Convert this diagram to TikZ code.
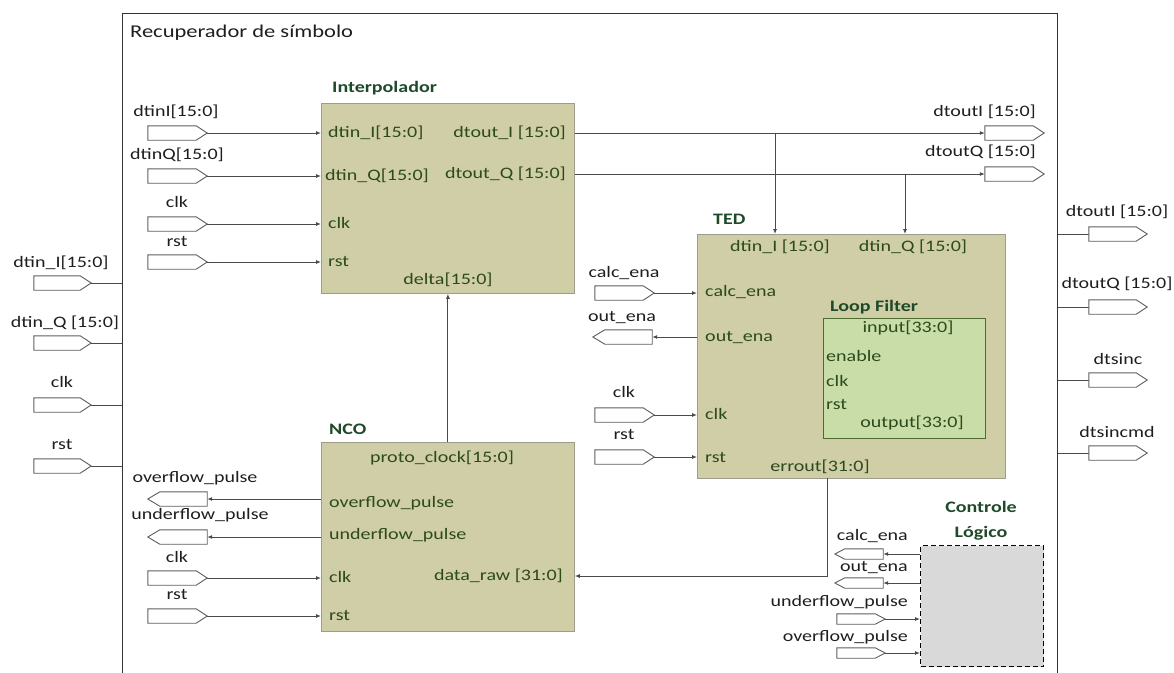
\documentclass[tikz,border=0pt]{standalone}
\usepackage{fontspec}
\setmainfont{Carlito}[FakeStretch=1.25]
\usetikzlibrary{arrows.meta}
\definecolor{blockfill}{HTML}{D0CEA6}
\definecolor{blockdraw}{HTML}{9E9D8C}
\definecolor{lffill}{HTML}{C8DDA8}
\definecolor{lfdraw}{HTML}{4E6B2E}
\definecolor{intext}{HTML}{2C4A1C}
\definecolor{titletext}{HTML}{1F4A2A}
\definecolor{wirecol}{HTML}{4A4A4A}
\definecolor{portdraw}{HTML}{5E5E5E}
\definecolor{ctrlfill}{HTML}{D9D9D9}
\definecolor{lbltext}{HTML}{1E1E1E}
\begin{document}
\begin{tikzpicture}[x=1pt,y=-1pt,
  font=\fontsize{16}{18}\selectfont,
  block/.style={draw=blockdraw, fill=blockfill, line width=0.8pt, inner sep=0, anchor=north west},
  lfblock/.style={draw=lfdraw, fill=lffill, line width=1.2pt, inner sep=0, anchor=north west},
  ctrlblock/.style={draw=black, fill=ctrlfill, line width=1.1pt, dash pattern=on 5pt off 3pt, inner sep=0, anchor=north west},
  outerbox/.style={draw=black!80, line width=1.1pt, inner sep=0, anchor=north west},
  portnode/.style={inner sep=0, minimum width=59pt, minimum height=14pt},
  smallport/.style={inner sep=0, minimum width=48pt, minimum height=10pt},
  portline/.style={draw=portdraw, fill=white, line width=0.9pt, line join=miter},
  wire/.style={draw=wirecol, line width=0.9pt},
  arr/.style={-{Latex[length=5pt,width=4pt]}},
  lbl/.style={inner sep=0, text=lbltext, text height=11.5pt, text depth=3.5pt},
  inl/.style={inner sep=0, text=intext, text height=11.5pt, text depth=3.5pt},
  ttl/.style={inner sep=0, text=titletext, font=\fontsize{16}{18}\selectfont\bfseries, text height=11.5pt, text depth=3.5pt}
]
\useasboundingbox (0,0) rectangle (1174,672);

% ---------- blocks ----------
\node[outerbox, minimum width=935pt, minimum height=700pt] (outer) at (122,13) {};
\node[block, minimum width=253pt, minimum height=190pt] (interp) at (321,103) {};
\node[block, minimum width=308pt, minimum height=244pt] (ted) at (697,234) {};
\node[block, minimum width=253pt, minimum height=189pt] (nco) at (321,442) {};
\node[lfblock, minimum width=162pt, minimum height=120pt] (lf) at (823,318) {};
\node[ctrlblock, minimum width=123pt, minimum height=121pt] (ctrl) at (920,545) {};

% ---------- titles ----------
\node[lbl, anchor=west, font=\fontsize{18}{20}\selectfont] (title) at (130,33) {Recuperador de símbolo};
\node[ttl, anchor=west] (tInterp) at (332,88) {Interpolador};
\node[ttl, anchor=west] (tTed) at (713,220) {TED};
\node[ttl, anchor=west] (tNco) at (329,430) {NCO};
\node[ttl, anchor=west] (tLf) at (830,307) {Loop Filter};
\node[ttl] (tCtrlA) at (981,508) {Controle};
\node[ttl] (tCtrlB) at (981,533) {Lógico};

% ---------- ports ----------
% outer left
\node[portnode, minimum width=57pt] (oL1) at (62.5,283) {};
\node[portnode, minimum width=57pt] (oL2) at (62.5,343) {};
\node[portnode, minimum width=57pt] (oL3) at (62.5,405) {};
\node[portnode, minimum width=57pt] (oL4) at (62.5,466) {};
% outer right
\node[portnode, minimum width=58pt] (oR1) at (1118,234) {};
\node[portnode, minimum width=58pt] (oR2) at (1118,307) {};
\node[portnode, minimum width=58pt] (oR3) at (1118,380) {};
\node[portnode, minimum width=58pt] (oR4) at (1118,453) {};
% interpolador inputs
\node[portnode] (pI) at (177.5,133) {};
\node[portnode] (pQ) at (177.5,176) {};
\node[portnode] (pC) at (177.5,224) {};
\node[portnode] (pR) at (177.5,262) {};
% interpolador outputs
\node[portnode] (qI) at (1014.5,133) {};
\node[portnode] (qQ) at (1014.5,174) {};
% TED ports
\node[portnode] (tC) at (624.5,293) {};
\node[portnode] (tO) at (622.5,337) {};
\node[portnode] (tK) at (624.5,415) {};
\node[portnode] (tR) at (624.5,457) {};
% NCO ports
\node[portnode] (nO) at (177.5,499) {};
\node[portnode] (nU) at (177.5,537) {};
\node[portnode] (nK) at (177.5,578) {};
\node[portnode] (nR) at (177.5,616) {};
% control ports
\node[smallport] (cC) at (859,554) {};
\node[smallport] (cO) at (859,583) {};
\node[smallport] (cU) at (861,619) {};
\node[smallport] (cV) at (861,653) {};

% ---------- connectors ----------
\foreach \p in {oL1,oL2,oL3,oL4}
  \draw[wire] (\p.east) -- (outer.west |- \p.east);
\foreach \p in {oR1,oR2,oR3,oR4}
  \draw[wire] (outer.east |- \p.west) -- (\p.west);
\foreach \p in {pI,pQ,pC,pR}
  \draw[wire, arr] (\p.east) -- (interp.west |- \p.east);
\foreach \p in {qI,qQ}
  \draw[wire, arr] (interp.east |- \p.west) -- (\p.west);
\coordinate (brI) at (775,133);
\coordinate (brQ) at (905,174);
\draw[wire, arr] (brI) -- (brI |- ted.north);
\draw[wire, arr] (brQ) -- (brQ |- ted.north);
\draw[wire, arr] (nco.north) -- (interp.south);
\foreach \p in {tC,tK,tR}
  \draw[wire, arr] (\p.east) -- (ted.west |- \p.east);
\draw[wire, arr] (ted.west |- tO.east) -- (tO.east);
\coordinate (errA) at (827,478);
\coordinate (errB) at (827,576);
\draw[wire, arr] (errA) -- (errB) -- (nco.east |- errB);
\foreach \p in {nO,nU}
  \draw[wire, arr] (nco.west |- \p.east) -- (\p.east);
\foreach \p in {nK,nR}
  \draw[wire, arr] (\p.east) -- (nco.west |- \p.east);
\foreach \p in {cC,cO}
  \draw[wire, arr] (ctrl.west |- \p.east) -- (\p.east);
\foreach \p in {cU,cV}
  \draw[wire, arr] (\p.east) -- (ctrl.west |- \p.east);

% ---------- port shapes ----------
\foreach \p in {oL1,oL2,oL3,oL4,oR1,oR2,oR3,oR4,pI,pQ,pC,pR,qI,qQ,tC,tK,tR,nK,nR}
  \draw[portline] (\p.north west) -- ([xshift=-11pt]\p.north east) -- (\p.east)
     -- ([xshift=-11pt]\p.south east) -- (\p.south west) -- cycle;
\foreach \p in {tO,nO,nU}
  \draw[portline] (\p.west) -- ([xshift=12pt]\p.north west) -- (\p.north east)
     -- (\p.south east) -- ([xshift=12pt]\p.south west) -- cycle;
\foreach \p in {cC,cO}
  \draw[portline] (\p.west) -- ([xshift=10pt]\p.north west) -- (\p.north east)
     -- (\p.south east) -- ([xshift=10pt]\p.south west) -- cycle;
\foreach \p in {cU,cV}
  \draw[portline] (\p.north west) -- ([xshift=-10pt]\p.north east) -- (\p.east)
     -- ([xshift=-10pt]\p.south east) -- (\p.south west) -- cycle;

% ---------- port labels (outside) ----------
\node[lbl] (loL1) at (61,263) {dtin\_I[15:0]};
\node[lbl] (loL2) at (65,323) {dtin\_Q [15:0]};
\node[lbl] (loL3) at (62,383) {clk};
\node[lbl] (loL4) at (62,445) {rst};
\node[lbl] (loR1) at (1117,212) {dtoutI [15:0]};
\node[lbl] (loR2) at (1117,284) {dtoutQ [15:0]};
\node[lbl] (loR3) at (1118,360) {dtsinc};
\node[lbl] (loR4) at (1117,433) {dtsincmd};
\node[lbl] (lpI) at (176,112) {dtinI[15:0]};
\node[lbl] (lpQ) at (177,155) {dtinQ[15:0]};
\node[lbl] (lpC) at (177,203) {clk};
\node[lbl] (lpR) at (177,242) {rst};
\node[lbl, anchor=east] (lqI) at (1036,112) {dtoutI [15:0]};
\node[lbl, anchor=east] (lqQ) at (1036,152) {dtoutQ [15:0]};
\node[lbl] (ltC) at (624,273) {calc\_ena};
\node[lbl] (ltO) at (622,317) {out\_ena};
\node[lbl] (ltK) at (624,393) {clk};
\node[lbl] (ltR) at (624,435) {rst};
\node[lbl] (lnO) at (195,478) {overflow\_pulse};
\node[lbl] (lnU) at (200,515) {underflow\_pulse};
\node[lbl] (lnK) at (177,558) {clk};
\node[lbl] (lnR) at (177,595) {rst};
\node[lbl, anchor=east] (lcC) at (908,536) {calc\_ena};
\node[lbl, anchor=east] (lcO) at (908,567) {out\_ena};
\node[lbl, anchor=east] (lcU) at (908,602) {underflow\_pulse};
\node[lbl, anchor=east] (lcV) at (908,637) {overflow\_pulse};

% ---------- labels inside blocks ----------
\node[inl, anchor=west] (iI) at (328,133) {dtin\_I[15:0]};
\node[inl, anchor=west] (iQ) at (325,176) {dtin\_Q[15:0]};
\node[inl, anchor=west] (iC) at (328,224) {clk};
\node[inl, anchor=west] (iR) at (328,262) {rst};
\node[inl, anchor=east] (iOI) at (566,133) {dtout\_I [15:0]};
\node[inl, anchor=east] (iOQ) at (566,174) {dtout\_Q [15:0]};
\node[inl] (iD) at (448,280) {delta[15:0]};

\node[inl] (eI) at (780,247) {dtin\_I [15:0]};
\node[inl] (eQ) at (913,247) {dtin\_Q [15:0]};
\node[inl, anchor=west] (eC) at (705,292) {calc\_ena};
\node[inl, anchor=west] (eO) at (705,337) {out\_ena};
\node[inl, anchor=west] (eK) at (705,415) {clk};
\node[inl, anchor=west] (eR) at (705,458) {rst};
\node[inl] (eE) at (820,467) {errout[31:0]};

\node[inl] (fI) at (908,328) {input[33:0]};
\node[inl, anchor=west] (fE) at (826,357) {enable};
\node[inl, anchor=west] (fK) at (826,382) {clk};
\node[inl, anchor=west] (fR) at (826,405) {rst};
\node[inl] (fO) at (912,423) {output[33:0]};

\node[inl] (nP) at (442,458) {proto\_clock[15:0]};
\node[inl, anchor=west] (nOv) at (329,503) {overflow\_pulse};
\node[inl, anchor=west] (nUn) at (329,535) {underflow\_pulse};
\node[inl, anchor=west] (nCk) at (329,578) {clk};
\node[inl, anchor=west] (nRs) at (329,616) {rst};
\node[inl, anchor=east] (nDr) at (563,576) {data\_raw [31:0]};
\end{tikzpicture}
\end{document}
